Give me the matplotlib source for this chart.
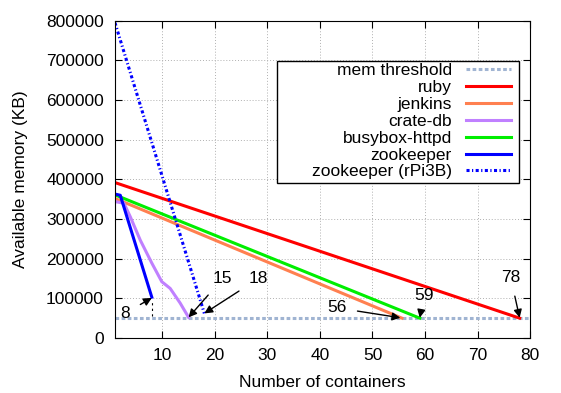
import numpy as np
import matplotlib
matplotlib.use('Agg')
from matplotlib import pyplot as plt
from matplotlib.patches import Rectangle

plt.rcParams['font.family'] = ['Liberation Sans', 'DejaVu Sans']

# data
threshold = 50000
ruby_x = [1, 78]
ruby_y = [392000, 50000]
jenkins_x = [1, 55.6]
jenkins_y = [352000, 50000]
crate_x = [1, 2.7, 3.9, 5.8, 8.0, 9.9, 11.5, 13.4, 15]
crate_y = [344000, 340000, 306000, 247000, 189000, 142000, 125000, 88000, 52000]
busybox_x = [1, 59]
busybox_y = [361000, 50000]
zk_x = [1, 2, 8]
zk_y = [363000, 360000, 103000]
zkpi_x = [1, 18]
zkpi_y = [795000, 62000]

# annotations: (text, text pos, arrow target)
notes = [("8", (3.0, 63000), (8, 101000)),
         ("15", (21.5, 150000), (15, 52000)),
         ("18", (28.3, 150000), (18, 62000)),
         ("56", (43.2, 76000), (55.3, 51000)),
         ("59", (59.8, 108000), (59, 51000)),
         ("78", (76.3, 152000), (78, 51000))]

fig = plt.figure(figsize=(5.61, 3.93), dpi=100)
ax = fig.add_axes([0.205, 0.14, 0.74, 0.807])
fs = 12.5

ax.plot([1, 80], [threshold, threshold], color='#a0b4d2', lw=2.2, ls=(0, (1.2, 0.8)), label='mem threshold')
ax.plot(ruby_x, ruby_y, color='#ff0000', lw=2.2, label='ruby')
ax.plot(jenkins_x, jenkins_y, color='#ff8050', lw=2.2, label='jenkins')
ax.plot(crate_x, crate_y, color='#c080ff', lw=2.2, label='crate-db')
ax.plot(busybox_x, busybox_y, color='#00ee00', lw=2.2, label='busybox-httpd')
ax.plot(zk_x, zk_y, color='#0000ff', lw=2.2, label='zookeeper')
ax.plot(zkpi_x, zkpi_y, color='#0000ff', lw=2.2, ls=(0, (1.0, 0.8, 0.4, 0.8)), label='zookeeper (rPi3B)')

# small dotted drop under zookeeper end
ax.plot([8, 8], [55000, 90000], color='black', lw=0.8, ls=(0, (2, 3)))

for t, xy_t, xy in notes:
    ax.annotate(t, xy=xy, xytext=xy_t, fontsize=fs, ha='center', va='center',
                arrowprops=dict(arrowstyle='-|>', color='black', lw=1.0, shrinkA=6, shrinkB=0,
                                mutation_scale=12))

ax.set_xlim(1, 80)
ax.set_ylim(0, 800000)
ax.set_xticks(range(10, 81, 10))
ax.set_yticks(range(0, 800001, 100000))
ax.tick_params(direction='in', top=True, right=True, labelsize=fs, length=5)
ax.tick_params(axis='x', pad=7)
ax.tick_params(axis='y', pad=8)
ax.grid(True, color='#b0b0b0', ls=(0, (1, 2)), lw=0.7)
ax.set_xlabel('Number of containers', fontsize=fs, labelpad=9)
ax.set_ylabel('Available memory (KB)', fontsize=fs, labelpad=13)

leg = ax.legend(loc='upper right', bbox_to_anchor=(0.962, 0.878), fontsize=fs,
                markerfirst=False, frameon=False,
                handlelength=2.6, labelspacing=0.1, borderpad=0.2, handletextpad=0.8,
                borderaxespad=0)
for t in leg.get_texts():
    t.set_ha('right')
leg._legend_box.align = 'right'
ax.add_patch(Rectangle((0.39, 0.49), 0.583, 0.384, transform=ax.transAxes,
                       facecolor='white', edgecolor='black', lw=1.0, zorder=4.5))

fig.savefig('out.png', dpi=100)
